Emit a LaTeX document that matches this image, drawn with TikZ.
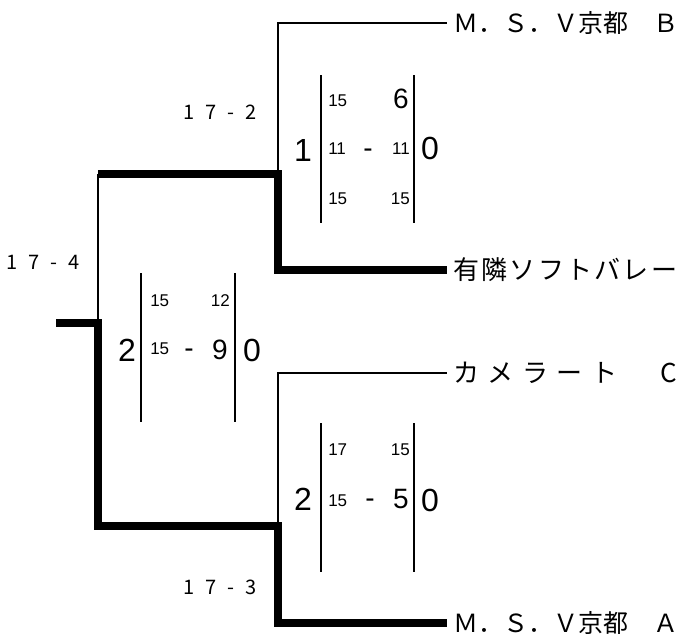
\documentclass[tikz,border=0pt]{standalone}
\usepackage{fontspec}
\setmainfont{Liberation Sans}
\newfontfamily\cjk{Noto Sans CJK JP}

%% spread the letters of a text over a cell of the given width
\newcommand\spread[2][168pt]{\makebox[#1][s]{\spreadfirst#2\relax}}
\def\spreadfirst#1{#1\spreadnext}
\def\spreadnext#1{\ifx\relax#1\else\hfill#1\expandafter\spreadnext\fi}

\begin{document}
\begin{tikzpicture}[x=0.75pt,y=-0.75pt,
    win/.style={line width=5.6pt},
    lose/.style={line width=2pt},
    bar/.style={line width=2pt},
    team/.style={anchor=west,inner sep=0pt,inner xsep=4.5pt,font=\cjk\fontsize{19.5}{21}\selectfont},
    sets/.style={inner sep=0pt,font=\fontsize{24}{26}\selectfont},
    pts/.style={inner sep=0pt,font=\fontsize{12.75}{14}\selectfont},
    ptsbig/.style={inner sep=0pt,font=\fontsize{21}{23}\selectfont},
    tally/.style={inner sep=0pt,font=\cjk\fontsize{15}{17}\selectfont}]
    \useasboundingbox (0,0) rectangle (685,639);
    %% teams
    \node[team] (teamB) at (447,23) {\fontsize{18.75}{20}\selectfont Ｍ．Ｓ．Ｖ京都　Ｂ};
    \node[team] (teamY) at (447,270) {\spread{有隣ソフトバレー}};
    \node[team] (teamC) at (447,373) {\spread{カメラート　C}};
    \node[team] (teamA) at (447,623) {\fontsize{18.75}{20}\selectfont Ｍ．Ｓ．Ｖ京都　Ａ};
    %% bracket
    \coordinate (root) at (56,323);
    \coordinate (f) at (98,323);
    \coordinate (f1) at (98,174);
    \coordinate (s1) at (278,174);
    \coordinate (s2) at (278,526);
    \draw[lose] (s1) |- (teamB.west);
    \draw[lose] (s2) |- (teamC.west);
    \draw[lose] (f1) -- (f);
    \draw[win] (f1) -- (s1) |- (teamY.west);
    \draw[win] (root) -- (f) |- (s2) |- (teamA.west);
    %% game counts
    \node[tally] (t1) at (220,112) {\spread[55pt]{17-2}};
    \node[tally] (t0) at (43,262) {\spread[55pt]{17-4}};
    \node[tally] (t2) at (220,587) {\spread[55pt]{17-3}};
    %% semifinal 1
    \draw[bar] (321,75) -- (321,223);
    \draw[bar] (414,75) -- (414,223);
    \node[sets] (m1l) at (303,150) {1};
    \node[sets] (m1r) at (430,148) {0};
    \node[pts,anchor=west] (m1a) at (328,101) {15};
    \node[ptsbig,anchor=east] (m1b) at (409,99) {6};
    \node[pts,anchor=west] (m1c) at (328,149) {11};
    \node[ptsbig] (m1d) at (368,153) {-};
    \node[pts,anchor=east] (m1e) at (410,149) {11};
    \node[pts,anchor=west] (m1f) at (328,199) {15};
    \node[pts,anchor=east] (m1g) at (410,199) {15};
    %% final
    \draw[bar] (141,273) -- (141,422);
    \draw[bar] (235,273) -- (235,422);
    \node[sets] (m0l) at (127,350) {2};
    \node[sets] (m0r) at (252,350) {0};
    \node[pts,anchor=west] (m0a) at (150,301) {15};
    \node[pts,anchor=east] (m0b) at (230,301) {12};
    \node[pts,anchor=west] (m0c) at (150,349) {15};
    \node[ptsbig] (m0d) at (189,353) {-};
    \node[ptsbig,anchor=east] (m0e) at (228,350) {9};
    %% semifinal 2
    \draw[bar] (321,423) -- (321,572);
    \draw[bar] (414,423) -- (414,572);
    \node[sets] (m2l) at (303,499) {2};
    \node[sets] (m2r) at (430,500) {0};
    \node[pts,anchor=west] (m2a) at (328,450) {17};
    \node[pts,anchor=east] (m2b) at (410,450) {15};
    \node[pts,anchor=west] (m2c) at (328,501) {15};
    \node[ptsbig] (m2d) at (370,503) {-};
    \node[ptsbig,anchor=east] (m2e) at (409,499) {5};
\end{tikzpicture}
\end{document}
